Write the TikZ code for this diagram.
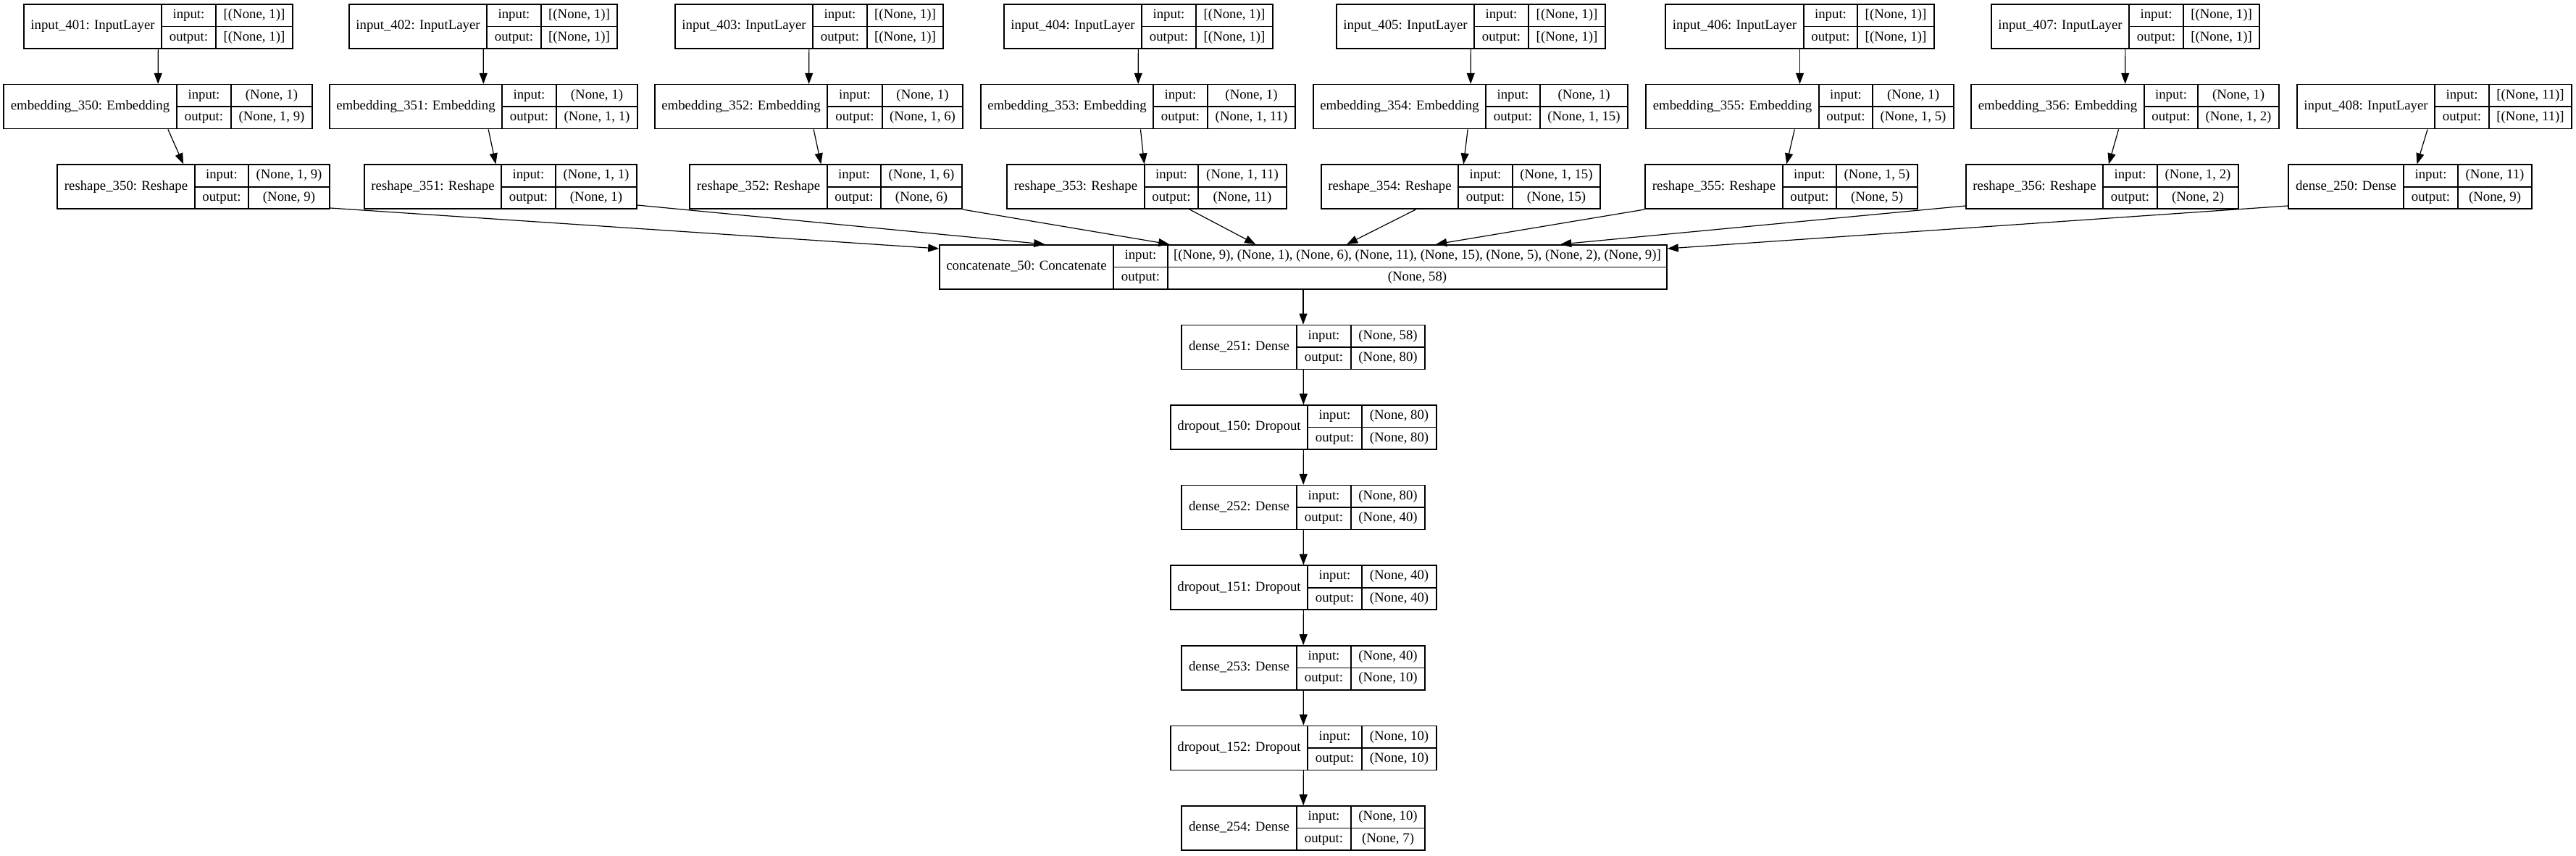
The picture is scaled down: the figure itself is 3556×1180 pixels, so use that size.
\documentclass[tikz,border=0pt]{standalone}
\usepackage{fontspec}
\setmainfont{Liberation Serif}
\usetikzlibrary{arrows.meta}
\usetikzlibrary{fit}
\usetikzlibrary{calc}

\tikzset{
    recbox/.style={draw, line width=0.8pt, inner sep=0pt},
    cell/.style={line width=0.8pt},
    lbl/.style={font=\fontsize{9.4}{11}\selectfont, inner sep=0pt, text height=6.6pt, text depth=2.2pt},
    edge/.style={-{Triangle[length=7.5pt,width=5.5pt]}, line width=0.6pt}
}

% #1 name, #2 left, #3 first split, #4 second split, #5 right, #6 row, #7 title, #8 input, #9 output
\newcommand{\layer}[9]{%
    \pgfmathsetmacro{\recy}{6+110.6*#6}
    \node (#1) [recbox, fit={(#2,\recy) (#5,\recy+61)}] {};
    \draw[cell] (#3,\recy) -- (#3,\recy+61) (#4,\recy) -- (#4,\recy+61) (#3,\recy+30.5) -- (#5,\recy+30.5);
    \path node (#1-t) [lbl] at ({(#2+#3)/2},\recy+30.5) {#7};
    \path node (#1-ik) [lbl] at ({(#3+#4)/2},\recy+15.25) {input:};
    \path node (#1-ok) [lbl] at ({(#3+#4)/2},\recy+45.75) {output:};
    \path node (#1-iv) [lbl] at ({(#4+#5)/2},\recy+15.25) {#8};
    \path node (#1-ov) [lbl] at ({(#4+#5)/2},\recy+45.75) {#9};
}

\begin{document}
\begin{tikzpicture}[x=0.5pt,y=-0.5pt]
        \useasboundingbox (0,0) rectangle (3556,1180);

        % input row
        \layer{in401}{33}{223}{298}{404}{0}{input\_401: InputLayer}{[(None, 1)]}{[(None, 1)]}
        \layer{in402}{482}{672}{747}{852}{0}{input\_402: InputLayer}{[(None, 1)]}{[(None, 1)]}
        \layer{in403}{932}{1122}{1197}{1302}{0}{input\_403: InputLayer}{[(None, 1)]}{[(None, 1)]}
        \layer{in404}{1386}{1576}{1651}{1757}{0}{input\_404: InputLayer}{[(None, 1)]}{[(None, 1)]}
        \layer{in405}{1845}{2035}{2110}{2216}{0}{input\_405: InputLayer}{[(None, 1)]}{[(None, 1)]}
        \layer{in406}{2299}{2490}{2564}{2670}{0}{input\_406: InputLayer}{[(None, 1)]}{[(None, 1)]}
        \layer{in407}{2749}{2939}{3014}{3119}{0}{input\_407: InputLayer}{[(None, 1)]}{[(None, 1)]}

        % embeddings
        \layer{em350}{5}{244}{319}{431}{1}{embedding\_350: Embedding}{(None, 1)}{(None, 1, 9)}
        \layer{em351}{455}{693}{768}{880}{1}{embedding\_351: Embedding}{(None, 1)}{(None, 1, 1)}
        \layer{em352}{904}{1142}{1218}{1329}{1}{embedding\_352: Embedding}{(None, 1)}{(None, 1, 6)}
        \layer{em353}{1354}{1592}{1667}{1788}{1}{embedding\_353: Embedding}{(None, 1)}{(None, 1, 11)}
        \layer{em354}{1813}{2051}{2126}{2247}{1}{embedding\_354: Embedding}{(None, 1)}{(None, 1, 15)}
        \layer{em355}{2272}{2511}{2585}{2697}{1}{embedding\_355: Embedding}{(None, 1)}{(None, 1, 5)}
        \layer{em356}{2721}{2960}{3034}{3146}{1}{embedding\_356: Embedding}{(None, 1)}{(None, 1, 2)}
        \layer{in408}{3171}{3361}{3436}{3550}{1}{input\_408: InputLayer}{[(None, 11)]}{[(None, 11)]}

        % reshapes
        \layer{rs350}{79}{269}{343}{455}{2}{reshape\_350: Reshape}{(None, 1, 9)}{(None, 9)}
        \layer{rs351}{503}{692}{767}{879}{2}{reshape\_351: Reshape}{(None, 1, 1)}{(None, 1)}
        \layer{rs352}{952}{1142}{1216}{1328}{2}{reshape\_352: Reshape}{(None, 1, 6)}{(None, 6)}
        \layer{rs353}{1390}{1580}{1654}{1776}{2}{reshape\_353: Reshape}{(None, 1, 11)}{(None, 11)}
        \layer{rs354}{1824}{2013}{2088}{2209}{2}{reshape\_354: Reshape}{(None, 1, 15)}{(None, 15)}
        \layer{rs355}{2271}{2461}{2535}{2647}{2}{reshape\_355: Reshape}{(None, 1, 5)}{(None, 5)}
        \layer{rs356}{2714}{2903}{2978}{3090}{2}{reshape\_356: Reshape}{(None, 1, 2)}{(None, 2)}
        \layer{de250}{3159}{3318}{3393}{3495}{2}{dense\_250: Dense}{(None, 11)}{(None, 9)}

        \layer{cc50}{1297}{1537}{1612}{2301}{3}{concatenate\_50: Concatenate}{[(None, 9), (None, 1), (None, 6), (None, 11), (None, 15), (None, 5), (None, 2), (None, 9)]}{(None, 58)}

        % dense stack
        \layer{de251}{1631}{1790}{1865}{1967}{4}{dense\_251: Dense}{(None, 58)}{(None, 80)}
        \layer{do150}{1616}{1805}{1880}{1983}{5}{dropout\_150: Dropout}{(None, 80)}{(None, 80)}
        \layer{de252}{1631}{1790}{1865}{1967}{6}{dense\_252: Dense}{(None, 80)}{(None, 40)}
        \layer{do151}{1616}{1805}{1880}{1983}{7}{dropout\_151: Dropout}{(None, 40)}{(None, 40)}
        \layer{de253}{1631}{1790}{1865}{1967}{8}{dense\_253: Dense}{(None, 40)}{(None, 10)}
        \layer{do152}{1616}{1805}{1880}{1983}{9}{dropout\_152: Dropout}{(None, 10)}{(None, 10)}
        \layer{de254}{1631}{1790}{1865}{1967}{10}{dense\_254: Dense}{(None, 10)}{(None, 7)}

        \draw[edge] (in401) -- (em350);
        \draw[edge] (in402) -- (em351);
        \draw[edge] (in403) -- (em352);
        \draw[edge] (in404) -- (em353);
        \draw[edge] (in405) -- (em354);
        \draw[edge] (in406) -- (em355);
        \draw[edge] (in407) -- (em356);

        \draw[edge] (em350) -- (rs350);
        \draw[edge] (em351) -- (rs351);
        \draw[edge] (em352) -- (rs352);
        \draw[edge] (em353) -- (rs353);
        \draw[edge] (em354) -- (rs354);
        \draw[edge] (em355) -- (rs355);
        \draw[edge] (em356) -- (rs356);
        \draw[edge] (in408) -- (de250);

        \draw[edge] ($(rs350.south east)+(0,-2)$) -- ($(cc50.north west)+(0,6)$);
        \draw[edge] ($(rs351.south east)+(0,-6)$) -- ($(cc50.north west)+(146,0)$);
        \draw[edge] (rs352.south east) -- ($(cc50.north west)+(318,0)$);
        \draw[edge] (rs353) -- ($(cc50.north west)+(437,0)$);
        \draw[edge] (rs354) -- ($(cc50.north west)+(563,0)$);
        \draw[edge] (rs355.south west) -- ($(cc50.north west)+(686,0)$);
        \draw[edge] ($(rs356.south west)+(0,-5)$) -- ($(cc50.north west)+(858,0)$);
        \draw[edge] ($(de250.south west)+(0,-5)$) -- ($(cc50.north east)+(0,6)$);

        \draw[edge] (cc50) -- (de251);
        \draw[edge] (de251) -- (do150);
        \draw[edge] (do150) -- (de252);
        \draw[edge] (de252) -- (do151);
        \draw[edge] (do151) -- (de253);
        \draw[edge] (de253) -- (do152);
        \draw[edge] (do152) -- (de254);

\end{tikzpicture}
\end{document}
